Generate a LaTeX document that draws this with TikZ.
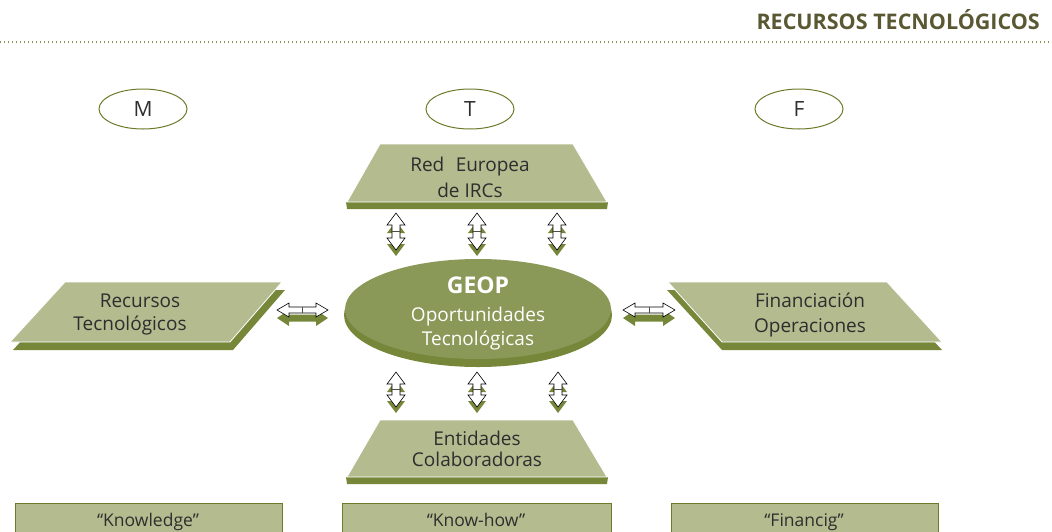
\documentclass[tikz,border=0pt]{standalone}
\usepackage{fontspec}
\setmainfont{Open Sans}
\definecolor{lightol}{HTML}{B3BB8F}
\definecolor{darkol}{HTML}{76873A}
\definecolor{midol}{HTML}{8A9858}
\definecolor{titleol}{HTML}{5A5832}
\definecolor{lineol}{HTML}{6B7B2B}
\definecolor{txt}{HTML}{2E2E2E}
\newcommand\vdarr[3]{%
  \fill[darkol] (#1,#2+8) -- ({#1+9},#2+20) -- ({#1+4},#2+20) -- ({#1+4},#3-6) -- ({#1+9},#3-6) -- (#1,#3+6) -- ({#1-9},#3-6) -- ({#1-4},#3-6) -- ({#1-4},#2+20) -- ({#1-9},#2+20) -- cycle;
  \draw[black,fill=white,line width=0.6pt] (#1,#2) -- ({#1+9},#2+12) -- ({#1+4},#2+12) -- ({#1+4},#3-12) -- ({#1+9},#3-12) -- (#1,#3) -- ({#1-9},#3-12) -- ({#1-4},#3-12) -- ({#1-4},#2+12) -- ({#1-9},#2+12) -- cycle;
  \draw[black!70,line width=0.5pt] ({#1-4},{(#2+#3)/2}) -- ({#1+4},{(#2+#3)/2});
}
\newcommand\hdarr[3]{%
  \fill[darkol] (#1,#3+8) -- (#1+12,#3) -- (#1+12,#3+4.5) -- (#2-12,#3+4.5) -- (#2-12,#3) -- (#2,#3+8) -- (#2-12,#3+16) -- (#2-12,#3+11.5) -- (#1+12,#3+11.5) -- (#1+12,#3+16) -- cycle;
  \draw[black,fill=white,line width=0.6pt] (#1,#3) -- (#1+12,#3-7) -- (#1+12,#3-3) -- (#2-12,#3-3) -- (#2-12,#3-7) -- (#2,#3) -- (#2-12,#3+7) -- (#2-12,#3+3) -- (#1+12,#3+3) -- (#1+12,#3+7) -- cycle;
  \draw[black!70,line width=0.5pt] ({(#1+#2)/2},#3-3) -- ({(#1+#2)/2},#3+3);
}
\tikzset{
  lbl/.style={anchor=base,text=txt,font=\fontsize{19}{21}\selectfont,inner sep=0pt},
  small/.style={anchor=base,text=txt,font=\fontsize{17.5}{19}\selectfont,inner sep=0pt},
  letter/.style={draw=lineol,line width=1pt,ellipse,minimum width=88pt,minimum height=40pt,inner sep=0pt,text=txt,font=\fontsize{21}{23}\selectfont},
  plate/.style={fill=lightol,draw=white,line width=0.8pt},
  shadow/.style={fill=darkol},
  bottombox/.style={fill=lightol,draw=lineol,line width=1pt},
}
\usetikzlibrary{shapes.geometric}
\begin{document}
\begin{tikzpicture}[x=1pt,y=-1pt]
\useasboundingbox (0,0) rectangle (1052,531);
% title
\node[anchor=base east,inner sep=0pt,text=titleol,font=\fontsize{21.5}{23}\selectfont\bfseries] (title) at (1040,29) {RECURSOS TECNOLÓGICOS};
\draw[lineol!80,line width=1.5pt,dash pattern=on 1.2pt off 2.8pt] (0,42) -- (1052,42);
% letters
\node[letter] (M) at (143,109) {M};
\node[letter] (T) at (470,109) {T};
\node[letter] (F) at (799,109) {F};
% top trapezoid
\fill[shadow] (346,202) -- (608,202) -- (607,209) -- (347,209) -- cycle;
\path[plate] (380,144) -- (573,144) -- (607,202) -- (347,202) -- cycle;
\node[lbl] (red1) at (470,171) {Red\hspace{0.6em}Europea};
\node[lbl] (red2) at (470,197) {de IRCs};
% bottom trapezoid
\fill[shadow] (346,477) -- (608,477) -- (607,484) -- (347,484) -- cycle;
\path[plate] (380,420) -- (573,420) -- (607,477) -- (347,477) -- cycle;
\node[lbl] (ent1) at (477,445) {Entidades};
\node[lbl] (ent2) at (477,466) {Colaboradoras};
% left parallelogram
\fill[shadow] (68,290) -- (285,290) -- (233,350) -- (13,350) -- cycle;
\path[plate] (65,282) -- (282,282) -- (230,342) -- (10,342) -- cycle;
\node[lbl] (rec1) at (140,307) {Recursos};
\node[lbl] (rec2) at (130,330) {Tecnológicos};
% right parallelogram
\fill[shadow] (667,290) -- (886,290) -- (942,350) -- (722,350) -- cycle;
\path[plate] (668,282) -- (887,282) -- (942,342) -- (722,342) -- cycle;
\node[lbl] (fin1) at (810,307) {Financiación};
\node[lbl] (fin2) at (810,332) {Operaciones};
% central ellipse
\fill[darkol] (478,315) ellipse [x radius=134, y radius=52];
\fill[midol] (478,309) ellipse [x radius=133, y radius=50];
\node[anchor=base,inner sep=0pt,text=white,font=\fontsize{23}{25}\selectfont\bfseries] (geop) at (478,293) {GEOP};
\node[lbl,text=white] (geop2) at (478,321) {Oportunidades};
\node[lbl,text=white] (geop3) at (478,345) {Tecnológicas};
% arrows
\vdarr{396}{213}{250}
\vdarr{477}{213}{250}
\vdarr{557}{213}{250}
\vdarr{396}{372}{407}
\vdarr{477}{372}{407}
\vdarr{558}{372}{407}
\hdarr{277}{328}{310}
\hdarr{623}{675}{310}
% bottom boxes
\path[bottombox] (15,503) rectangle (282,535);
\path[bottombox] (342,503) rectangle (611,535);
\path[bottombox] (671,503) rectangle (938,535);
\node[small] (kn) at (148,526) {“Knowledge”};
\node[small] (kh) at (476,526) {“Know-how”};
\node[small] (fi) at (804,526) {“Financig”};
\end{tikzpicture}
\end{document}
